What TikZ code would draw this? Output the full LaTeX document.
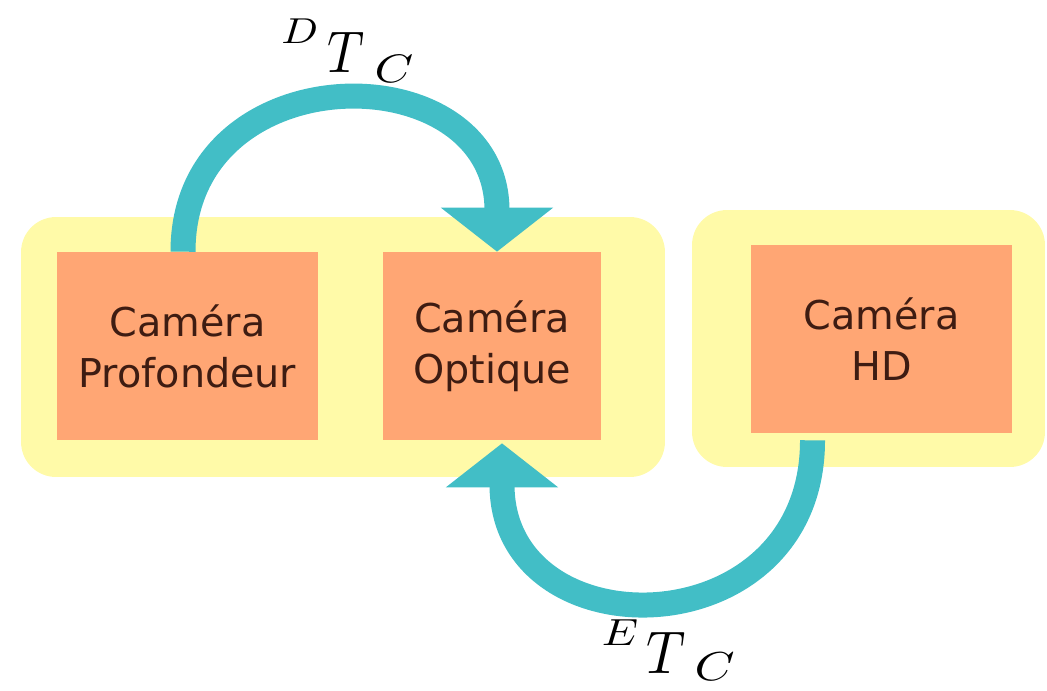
\documentclass[tikz,border=0pt]{standalone}
\usepackage{graphicx}
\usepackage{fontspec}
\setmainfont{DejaVu Sans}
\usetikzlibrary{arrows.meta}
\definecolor{ylw}{RGB}{255,250,168}
\definecolor{orng}{RGB}{255,166,116}
\definecolor{teal2}{RGB}{66,190,198}
\definecolor{txt}{RGB}{62,28,18}
\tikzset{
  group/.style={fill=ylw, rounded corners=0.7cm, inner sep=0pt},
  cam/.style={fill=orng, inner sep=0pt, align=center, text=txt,
    font=\fontsize{22.6}{29}\selectfont, minimum height=3.76cm},
  trans/.style={draw=teal2, line width=0.5cm,
    -{Triangle[length=0.88cm, width=2.2cm]}},
  lbl/.style={inner sep=0pt, anchor=base west, font=\fontsize{10}{12}\selectfont}
}
\begin{document}
\begin{tikzpicture}[x=0.02cm, y=-0.02cm]
\useasboundingbox (0,0) rectangle (1047,690);
\node[group, minimum width=12.88cm, minimum height=5.2cm] (YL) at (343,347) {};
\node[group, minimum width=7.06cm, minimum height=5.14cm] (YR) at (868.5,338.5) {};
\node[cam, minimum width=5.22cm] (P) at (187.5,346) {Caméra\\Profondeur};
\node[cam, minimum width=4.36cm] (O) at (492,346) {Caméra\\Optique};
\node[cam, minimum width=5.24cm] (HD) at (881.5,339) {Caméra\\HD};
\draw[trans] ([xshift=-0.09cm]P.north) .. controls +(0,-200) and +(0,-200) .. ([xshift=0.1cm]O.north);
\draw[trans] ([xshift=-1.38cm, yshift=-0.14cm]HD.south) .. controls +(0,210) and +(0,210) .. ([xshift=0.2cm, yshift=-0.06cm]O.south);
\node[lbl] (DT) at (281,72) {\raisebox{16.4pt}{\scalebox{2.45}[2.05]{$D$}}\kern5.5pt\scalebox{2.92}[3.35]{$T$}\kern5.5pt\raisebox{-5.7pt}{\scalebox{2.8}[2.26]{$C$}}};
\node[lbl] (ET) at (601.6,673) {\raisebox{15.9pt}{\scalebox{2.6}[2.15]{$E$}}\kern4.65pt\scalebox{3.09}[3.43]{$T$}\kern5.1pt\raisebox{-4.5pt}{\scalebox{2.9}[2.3]{$C$}}};
\end{tikzpicture}
\end{document}
